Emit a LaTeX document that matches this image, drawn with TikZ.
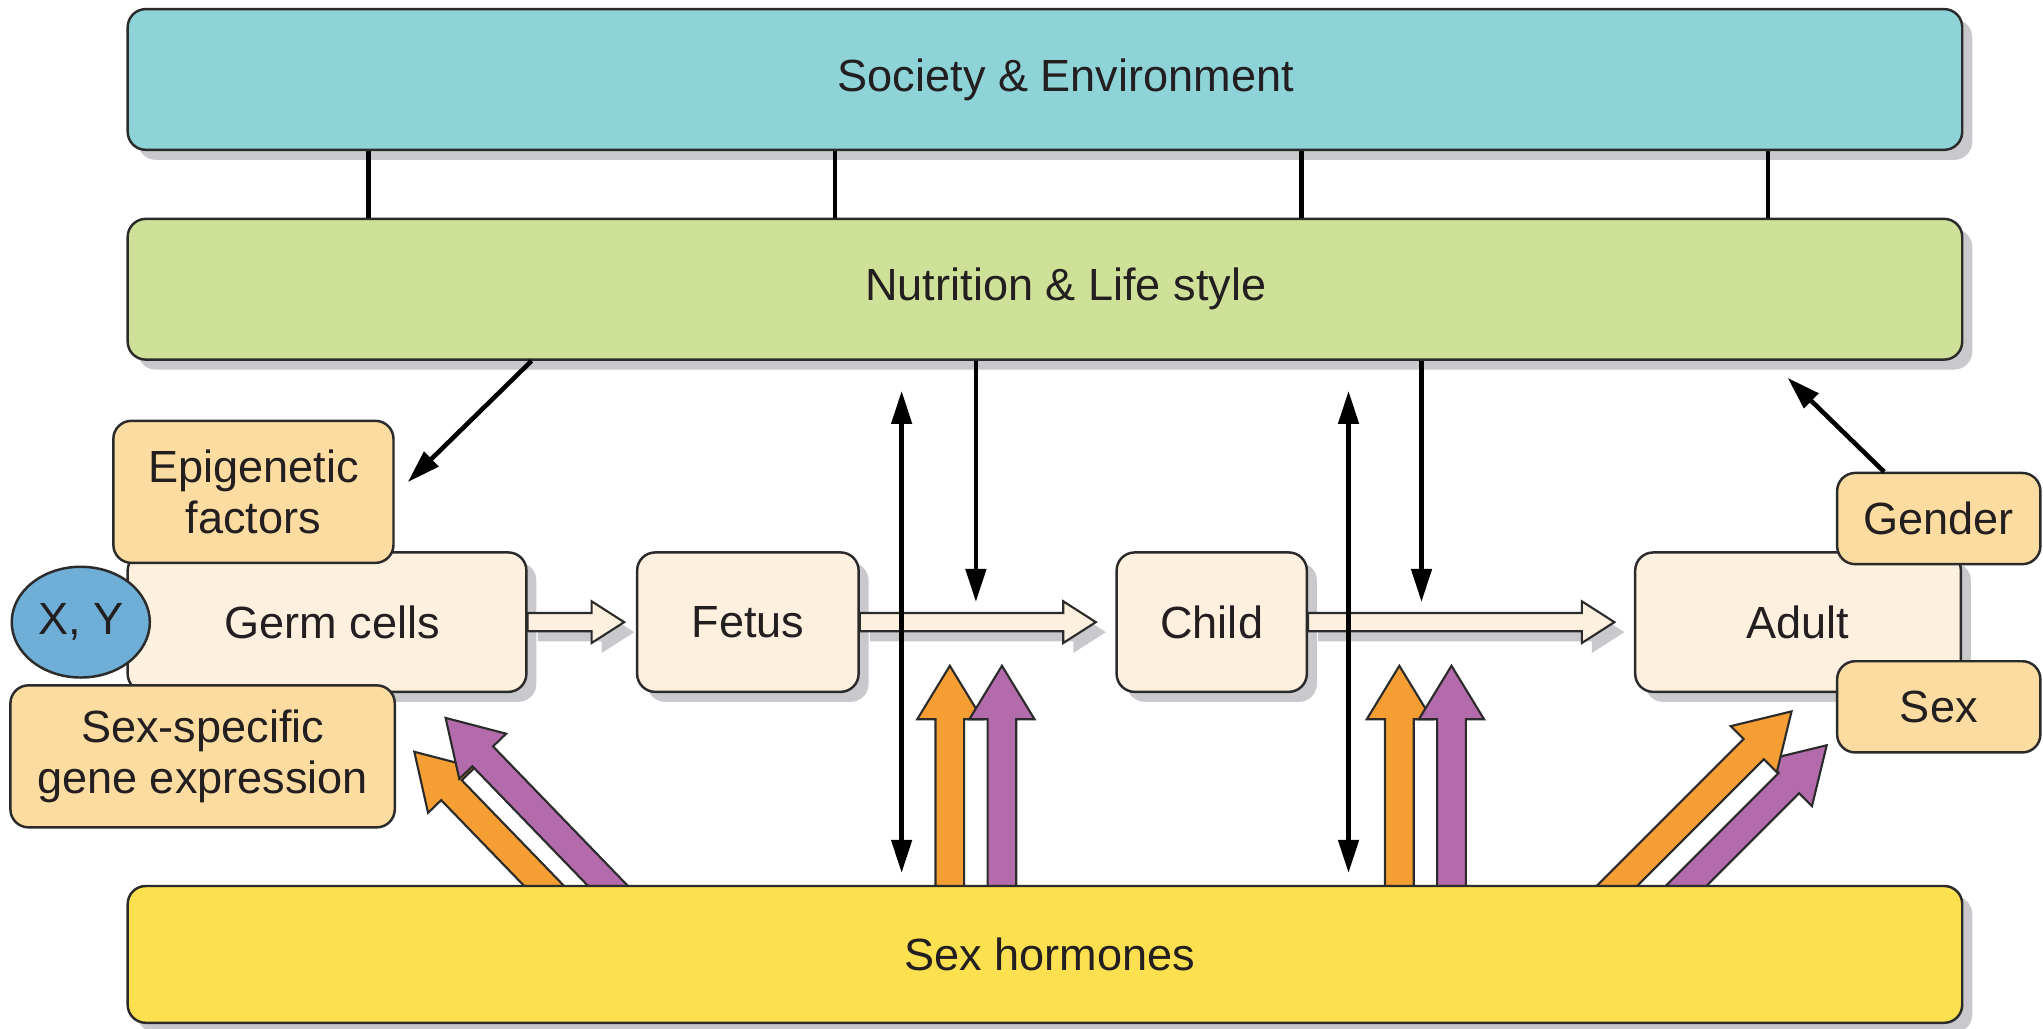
\documentclass[tikz,border=0pt]{standalone}
\usepackage{fontspec}
\setmainfont{Liberation Sans}
\usetikzlibrary{calc,shadows,arrows.meta,shapes.geometric}
\definecolor{soccol}{HTML}{8DD3D7}
\definecolor{nutcol}{HTML}{CFE198}
\definecolor{horcol}{HTML}{FDE04F}
\definecolor{faccol}{HTML}{FCDCA0}
\definecolor{stagecol}{HTML}{FEF0DF}
\definecolor{xycol}{HTML}{6EAED7}
\definecolor{orangecol}{HTML}{F49E34}
\definecolor{purplecol}{HTML}{B36BAC}
\definecolor{shadowcol}{HTML}{C9C9CD}
\definecolor{textcol}{HTML}{231F20}
\definecolor{bordercol}{HTML}{2B2B2B}
\pgfdeclarelayer{background}
\pgfsetlayers{background,main}
% block arrow: #1 style, #2 start, #3 tip, #4 shaft half width, #5 head half width, #6 head length
\newcommand\blockarrow[6]{%
  \coordinate (tmpC) at ($(#3)!#6!(#2)$);
  \path[#1] ($(#2)!#4!90:(#3)$) -- ($(tmpC)!#4!90:(#3)$) -- ($(tmpC)!#5!90:(#3)$) -- (#3)
    -- ($(tmpC)!#5!-90:(#3)$) -- ($(tmpC)!#4!-90:(#3)$) -- ($(#2)!#4!-90:(#3)$) -- cycle;}
\tikzset{
  sz/.style 2 args={minimum width=#1*0.013cm, minimum height=#2*0.013cm},
  shad/.style={drop shadow={shadow xshift=0.1cm, shadow yshift=-0.1cm, fill=shadowcol, opacity=1}},
  basebox/.style={draw=bordercol, line width=0.7pt, rounded corners=0.18cm, inner sep=0pt,
    text=textcol, align=center},
  bigbox/.style={basebox, shad},
  stagebox/.style={basebox, shad, fill=stagecol},
  facbox/.style={basebox, fill=faccol},
  conn/.style={line width=1.3pt, draw=black},
  arr/.style={conn, -{Triangle[length=0.33cm,width=0.2cm]}},
  darr/.style={conn, {Triangle[length=0.33cm,width=0.2cm]}-{Triangle[length=0.33cm,width=0.2cm]}},
  hollow/.style={fill=stagecol, draw=bordercol, line width=0.6pt, shad},
  fat/.style={fill=#1, draw=bordercol, line width=0.6pt, line join=miter},
}
\begin{document}
\begin{tikzpicture}[x=0.013cm, y=-0.013cm, font=\fontsize{12.8}{14.5}\selectfont]
\useasboundingbox (0,0) rectangle (1568,789);

% main bars
\node[bigbox, fill=soccol, sz={1408}{108}] (soc) at (802,61) {\hspace*{0.416cm}Society \& Environment};
\node[bigbox, fill=nutcol, sz={1408}{108}] (nut) at (802,222) {\hspace*{0.416cm}Nutrition \& Life style};
\node[bigbox, fill=horcol, sz={1408}{105}] (hor) at (802,732.5) {\hspace*{0.1cm}Sex hormones};

% links between society and nutrition
\foreach \x/\n in {283/a,641/b,999/c,1357/d} {
  \coordinate (v\n) at (\x,0);
  \draw[conn] (soc.south -| v\n) -- (nut.north -| v\n);
}

% stage boxes
\node[stagebox, sz={306}{107}] (germ) at (251,477.5) {\hspace*{0.1cm}Germ cells};
\node[facbox, sz={215}{109}] (epi) at (194.5,377.5) {Epigenetic\\factors};
\node[facbox, sz={295}{109}] (ssg) at (155.5,580.5) {Sex-specific\\gene expression};
\node[ellipse, draw=bordercol, line width=0.7pt, fill=xycol, text=textcol, inner sep=0pt, sz={106}{85}] (xy) at (62,477.5) {X, Y};
\node[stagebox, sz={170}{107}] (fetus) at (574,477.5) {Fetus};
\node[stagebox, sz={146}{107}] (child) at (930,477.5) {Child};
\node[stagebox, sz={250}{107}] (adult) at (1380,477.5) {Adult};
\node[facbox, sz={156}{70}] (gender) at (1488,398) {Gender};
\node[facbox, sz={156}{70}] (sex) at (1488,542.5) {Sex};

% hollow progression arrows
\coordinate (t1) at ($(fetus.west)+(-9,0)$);
\coordinate (t2) at ($(child.west)+(-15,0)$);
\coordinate (t3) at ($(adult.west)+(-15,0)$);
\blockarrow{hollow}{germ.east}{t1}{0.091cm}{0.208cm}{0.325cm}
\blockarrow{hollow}{fetus.east}{t2}{0.091cm}{0.208cm}{0.325cm}
\blockarrow{hollow}{child.east}{t3}{0.091cm}{0.208cm}{0.325cm}

% black arrows
\coordinate (ne) at (408,0);
\coordinate (epitip) at (313,370);
\draw[arr] (nut.south -| ne) -- (epitip);
\coordinate (d1) at (749,462);
\coordinate (d2) at (1091,462);
\draw[arr] (nut.south -| d1) -- (d1);
\draw[arr] (nut.south -| d2) -- (d2);
\coordinate (u1t) at (692,300); \coordinate (u1b) at (692,670);
\coordinate (u2t) at (1035,300); \coordinate (u2b) at (1035,670);
\draw[darr] (u1t) -- (u1b);
\draw[darr] (u2t) -- (u2b);
\coordinate (gs) at (1446,0);
\coordinate (gt) at (1372,290);
\draw[arr] (gender.north -| gs) -- (gt);

% hormone arrows
\begin{pgfonlayer}{background}
  \coordinate (o1) at (729,511); \coordinate (p1) at (769,511);
  \coordinate (o2) at (1074,511); \coordinate (p2) at (1114,511);
  \coordinate (o1s) at ($(hor.north -| o1)+(0,15)$);
  \coordinate (p1s) at ($(hor.north -| p1)+(0,15)$);
  \coordinate (o2s) at ($(hor.north -| o2)+(0,15)$);
  \coordinate (p2s) at ($(hor.north -| p2)+(0,15)$);
  \blockarrow{fat=orangecol}{o1s}{o1}{0.143cm}{0.325cm}{0.533cm}
  \blockarrow{fat=purplecol}{p1s}{p1}{0.143cm}{0.325cm}{0.533cm}
  \blockarrow{fat=orangecol}{o2s}{o2}{0.143cm}{0.325cm}{0.533cm}
  \blockarrow{fat=purplecol}{p2s}{p2}{0.143cm}{0.325cm}{0.533cm}
  \coordinate (o3) at (318,577); \coordinate (o3s) at (437,700);
  \coordinate (p3) at (342,551); \coordinate (p3s) at (486,700);
  \blockarrow{fat=orangecol}{o3s}{o3}{0.143cm}{0.325cm}{0.533cm}
  \blockarrow{fat=purplecol}{p3s}{p3}{0.143cm}{0.325cm}{0.533cm}
  \coordinate (o4) at (1375,546); \coordinate (o4s) at (1221,700);
  \coordinate (p4) at (1402,572); \coordinate (p4s) at (1274,700);
  \blockarrow{fat=purplecol}{p4s}{p4}{0.143cm}{0.325cm}{0.533cm}
  \blockarrow{fat=orangecol}{o4s}{o4}{0.143cm}{0.325cm}{0.533cm}
\end{pgfonlayer}
\end{tikzpicture}
\end{document}
